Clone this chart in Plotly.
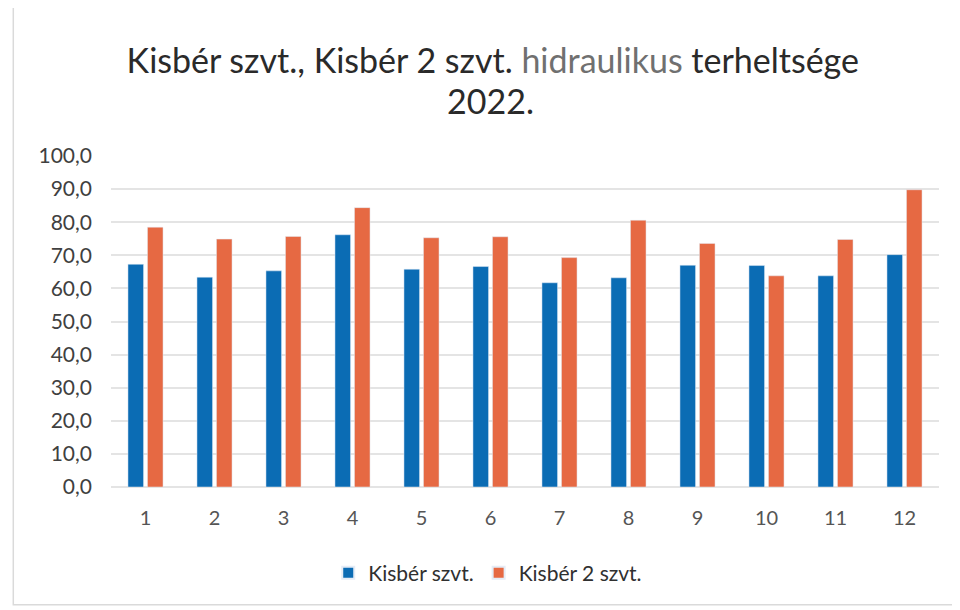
import plotly.graph_objects as go

months = ["1", "2", "3", "4", "5", "6", "7", "8", "9", "10", "11", "12"]
kisber = [67.3, 63.4, 65.3, 76.2, 65.8, 66.6, 61.7, 63.2, 67.0, 66.9, 63.8, 70.2]
kisber2 = [78.5, 74.9, 75.7, 84.4, 75.3, 75.6, 69.3, 80.6, 73.6, 63.8, 74.8, 89.8]
y_tickvals = [0, 10, 20, 30, 40, 50, 60, 70, 80, 90, 100]
y_ticktext = ["0,0", "10,0", "20,0", "30,0", "40,0", "50,0", "60,0", "70,0", "80,0", "90,0", "100,0"]

FONT = "Lato, Carlito, 'Open Sans', sans-serif"

fig = go.Figure()
fig.add_trace(go.Bar(x=months, y=kisber, name="Kisbér szvt.", marker_color="#0B6CB4"))
fig.add_trace(go.Bar(x=months, y=kisber2, name="Kisbér 2 szvt.", marker_color="#E66943"))

fig.update_layout(
    width=960, height=610,
    paper_bgcolor="white", plot_bgcolor="white",
    margin=dict(l=103, r=29, t=148, b=131, autoexpand=False),
    barmode="group", bargap=0.435, bargroupgap=0.2,
    font=dict(family=FONT, color="#404040"),
    title=dict(
        text="Kisbér szvt., Kisbér 2 szvt. <span style='color:#707070'>hidraulikus</span> terheltsége",
        x=0.505, xanchor="center", y=0.913, yanchor="middle",
        font=dict(size=34, color="#2a2a2a", family=FONT),
    ),
    annotations=[dict(
        text="2022.", xref="paper", yref="paper", x=0.458, y=1.168,
        xanchor="center", yanchor="middle", showarrow=False,
        font=dict(size=34, color="#2a2a2a", family=FONT),
    )],
    xaxis=dict(
        type="category", showgrid=False, showline=False, ticks="",
        tickfont=dict(size=20, color="#555555"), ticklabelstandoff=17,
    ),
    yaxis=dict(
        range=[0, 100], tickvals=y_tickvals, ticktext=y_ticktext,
        showgrid=True, gridcolor="#E4E4E4", gridwidth=1.5,
        zeroline=True, zerolinecolor="#E4E4E4", zerolinewidth=1.5,
        tickfont=dict(size=21, color="#404040"), ticks="", ticklabelstandoff=18,
    ),
    legend=dict(
        orientation="h", x=0.455, xanchor="center", y=-0.26, yanchor="middle",
        font=dict(size=21, color="#303030"), traceorder="normal",
        itemwidth=30, itemsizing="constant",
    ),
    shapes=[dict(type="rect", xref="paper", yref="paper", x0=-0.118, x1=1.019, y0=-0.356, y1=1.5,
                 line=dict(color="#DADADA", width=1.5))],
)

fig.write_html("out.html")
